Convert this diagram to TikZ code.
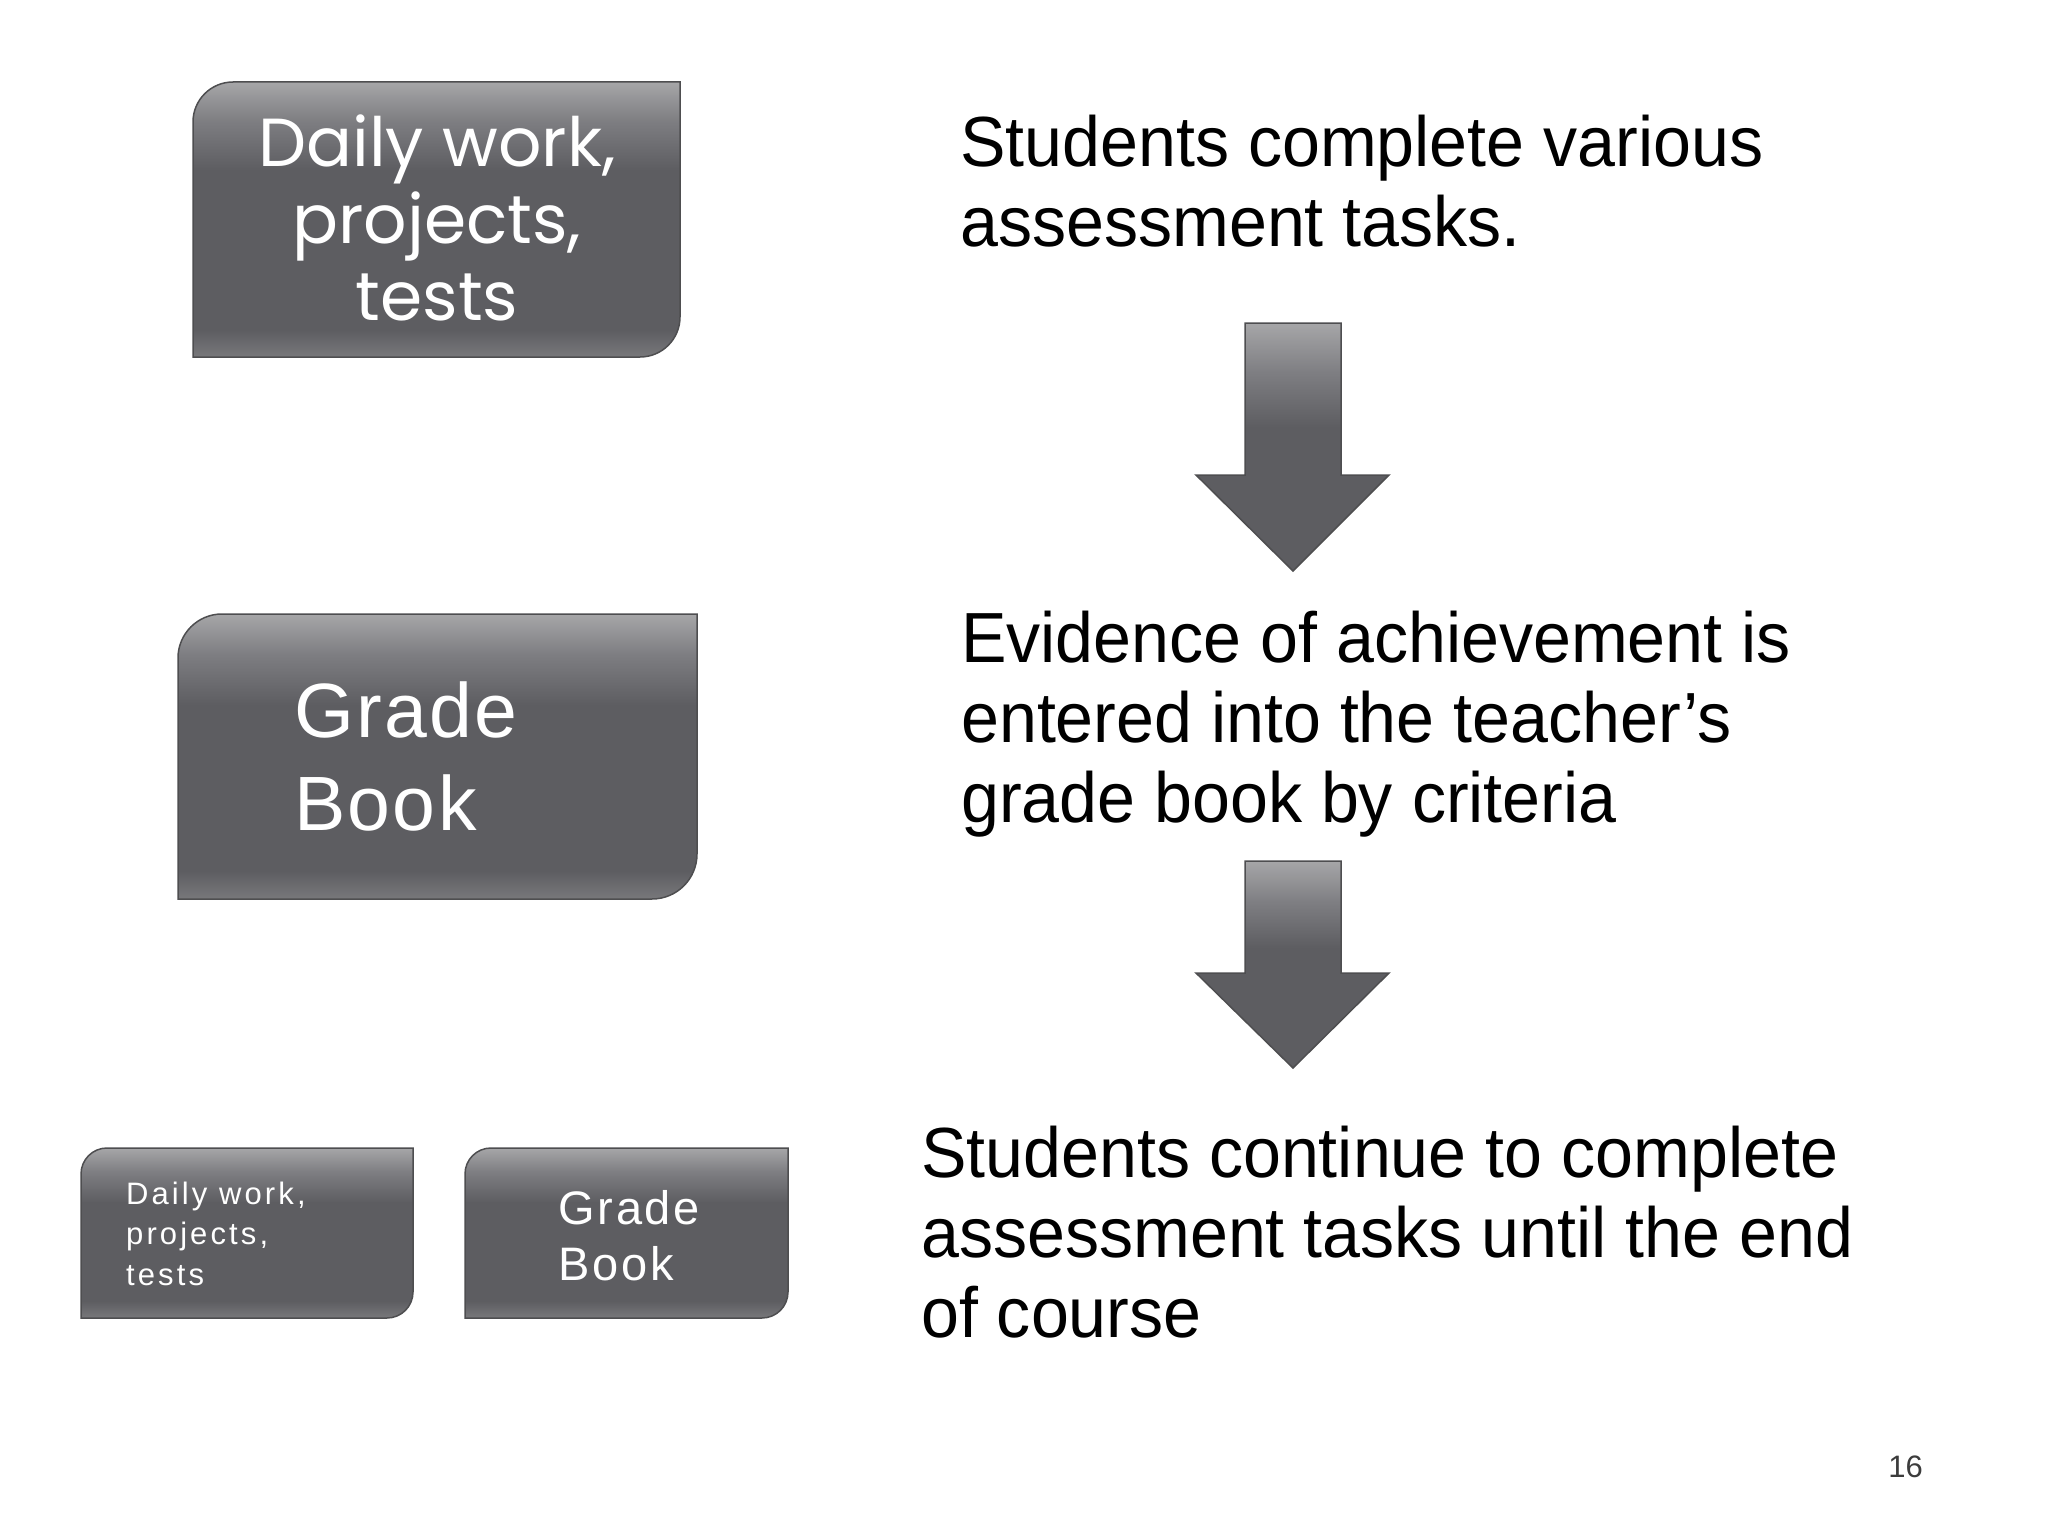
\documentclass[tikz,border=0pt]{standalone}
\usepackage{fontspec}
\usepackage{tikz}
\usetikzlibrary{positioning}
\usepackage{xcolor}
\setmainfont{Liberation Sans}
\newfontfamily\bodyfont[FakeStretch=0.96]{Liberation Sans}
\newfontfamily\gothfont{Poppins}
\newfontfamily\tagfont[LetterSpace=10]{Liberation Sans}
\newfontfamily\gradefont[LetterSpace=3]{Liberation Sans}
\newfontfamily\smallgradefont[LetterSpace=6]{Liberation Sans}

\definecolor{tabtop}{HTML}{A6A6A8}
\definecolor{tabupper}{HTML}{7E7E82}
\definecolor{tabmid}{HTML}{5D5D61}
\definecolor{tabbot}{HTML}{78787B}
\definecolor{tabedge}{HTML}{4E4E50}
\definecolor{pagegray}{HTML}{3C3C3C}

% tikz fits the band 25bp..75bp of a shading onto the path
\pgfdeclareverticalshading{tabshade}{100bp}{color(0bp)=(tabbot); color(25bp)=(tabbot); color(30bp)=(tabmid); color(59bp)=(tabmid); color(68bp)=(tabupper); color(75bp)=(tabtop); color(100bp)=(tabtop)}
\pgfdeclareverticalshading{arrowshade}{100bp}{color(0bp)=(tabmid); color(54bp)=(tabmid); color(65bp)=(tabupper); color(75bp)=(tabtop); color(100bp)=(tabtop)}

\tikzset{
  tabbox/.style={shade,shading=tabshade,draw=tabedge,line width=1.5pt},
  blockarrow/.style={shade,shading=arrowshade,draw=tabedge,line width=1.5pt,line join=miter},
  caption/.style={inner sep=0pt,align=left,anchor=base west,text=black,
    font=\bodyfont\fontsize{71}{80}\selectfont},
  boxlabel/.style={inner sep=0pt,text=white}
}

\begin{document}
\begin{tikzpicture}[x=1pt,y=-1pt]
\fill[white] (0,0) rectangle (2048,1536);
\useasboundingbox (0,0) rectangle (2048,1536);

% the three boxes and their small copies
\draw[tabbox] (193,357)--(193,122) arc[start angle=180,end angle=90,radius=40pt]--(680,82)--(680,317) arc[start angle=0,end angle=-90,radius=40pt]--cycle;
\draw[tabbox] (178,899)--(178,658) arc[start angle=180,end angle=90,radius=44pt]--(697,614)--(697,854) arc[start angle=0,end angle=-90,radius=45pt]--cycle;
\draw[tabbox] (81,1318)--(81,1174) arc[start angle=180,end angle=90,radius=26pt]--(413,1148)--(413,1292) arc[start angle=0,end angle=-90,radius=26pt]--cycle;
\draw[tabbox] (465,1318)--(465,1174) arc[start angle=180,end angle=90,radius=26pt]--(788,1148)--(788,1292) arc[start angle=0,end angle=-90,radius=26pt]--cycle;

% labels sit on the baseline of their last line
\node[boxlabel,anchor=base,align=center,font=\gothfont\fontsize{68}{77}\selectfont] (daily) at (437,320) {Daily work,\\projects,\\tests};
\node[boxlabel,anchor=base west,align=left,font=\gradefont\fontsize{77}{93}\selectfont] (grade) at (294,830) {Grade\\Book};
\node[boxlabel,anchor=base west,align=left,font=\tagfont\fontsize{31}{40.5}\selectfont] (dailysmall) at (126,1285) {Daily work,\\projects,\\tests};
\node[boxlabel,anchor=base west,align=left,font=\smallgradefont\fontsize{47}{56}\selectfont] (gradesmall) at (558,1280) {Grade\\Book};

% captions on the right
\node[caption] (tasks) at (960,246) {Students complete various\\assessment tasks.};
\node[caption] (evidence) at (961,822) {Evidence of achievement is\\entered into the teacher’s\\grade book by criteria};
\node[caption] (continue) at (921,1337) {Students continue to complete\\assessment tasks until the end\\of course};

% block arrows
\coordinate (tipA) at (1293,571);
\coordinate (tipB) at (1293,1068);
\draw[blockarrow] (1245,323)--(1341,323)--(1341,475)--(1389,475)--(tipA)--(1196,475)--(1245,475)--cycle;
\draw[blockarrow] (1245,861)--(1341,861)--(1341,973)--(1389,973)--(tipB)--(1196,973)--(1245,973)--cycle;

\node[inner sep=0pt,anchor=base east,text=pagegray,font=\fontsize{31}{36}\selectfont] (pagenum) at (1923,1477) {16};
\end{tikzpicture}
\end{document}
